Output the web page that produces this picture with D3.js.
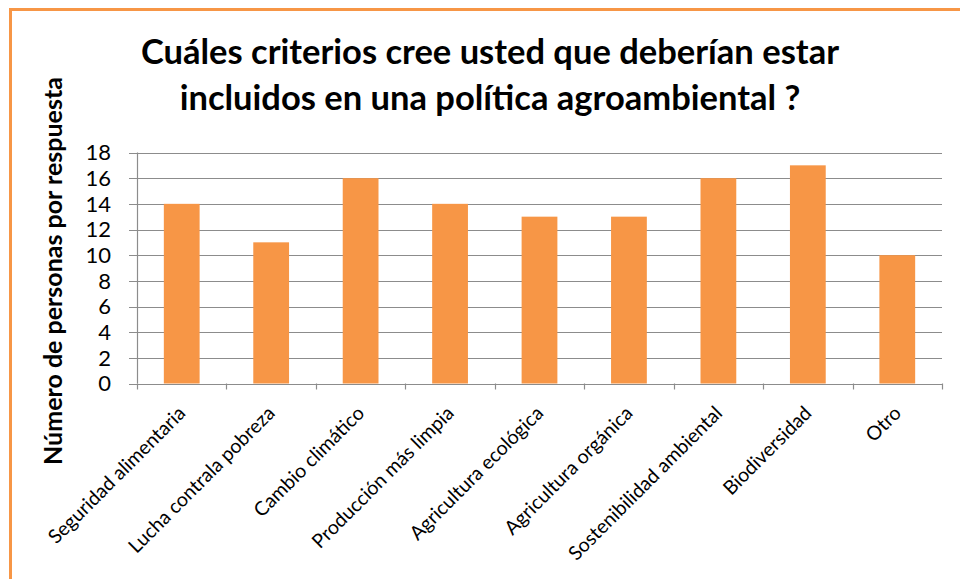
<!DOCTYPE html>
<html>
<head>
<meta charset="utf-8">
<script src="https://cdn.jsdelivr.net/npm/d3@7"></script>
<style>
  body { margin: 0; background: #fff; }
  text { font-family: Lato, "Noto Sans", sans-serif; fill: #000; }
</style>
</head>
<body>
<svg id="chart"></svg>
<script>
var width = 960;
var height = 579;

// chart data
var categories = ["Seguridad alimentaria", "Lucha contrala pobreza", "Cambio climático",
  "Producción más limpia", "Agricultura ecológica", "Agricultura orgánica",
  "Sostenibilidad ambiental", "Biodiversidad", "Otro"];
var values = [14, 11, 16, 14, 13, 13, 16, 17, 10];
var yTicks = [0, 2, 4, 6, 8, 10, 12, 14, 16, 18];
var titleLines = ["Cuáles criterios cree usted que deberían estar",
  "incluidos en una política agroambiental ?"];
var yTitle = "Número de personas por respuesta";

var orange = "#F79646";
var grid = "#8c8c8c";

var svg = d3.select("#chart")
  .attr("width", width)
  .attr("height", height);

// orange frame, runs off the right and bottom edge
svg.append("rect")
  .attr("x", 10.5).attr("y", 9.5)
  .attr("width", 1000).attr("height", 1000)
  .style("fill", "none")
  .style("stroke", orange)
  .style("stroke-width", 3);

var x = d3.scaleBand()
  .domain(categories)
  .range([137, 942])
  .paddingInner(0.6)
  .paddingOuter(0.3);

var band = d3.scaleBand().domain(categories).range([137, 942]);

var y = d3.scaleLinear()
  .domain([0, 18])
  .range([383.5, 152.5]);

// gridlines
svg.append("g").selectAll("line")
  .data(yTicks)
  .enter().append("line")
  .attr("x1", 129).attr("x2", 942)
  .attr("y1", function (d) { return Math.round(y(d)) + 0.5; })
  .attr("y2", function (d) { return Math.round(y(d)) + 0.5; })
  .style("stroke", grid)
  .style("stroke-width", 1.2);

// y axis line
svg.append("line")
  .attr("x1", 137.5).attr("x2", 137.5)
  .attr("y1", y(18)).attr("y2", y(0))
  .style("stroke", grid).style("stroke-width", 1.2);

// x tick marks on band edges
var edges = categories.map(function (c) { return band(c); }).concat([942]);
svg.append("g").selectAll("line")
  .data(edges)
  .enter().append("line")
  .attr("x1", function (d) { return Math.round(d) + 0.5; })
  .attr("x2", function (d) { return Math.round(d) + 0.5; })
  .attr("y1", y(0)).attr("y2", y(0) + 6)
  .style("stroke", grid).style("stroke-width", 1.2);

// bars
svg.append("g").selectAll("rect")
  .data(values)
  .enter().append("rect")
  .attr("x", function (d, i) { return x(categories[i]); })
  .attr("width", x.bandwidth())
  .attr("y", function (d) { return y(d); })
  .attr("height", function (d) { return y(0) - y(d); })
  .style("fill", orange);

// y tick labels
svg.append("g").selectAll("text")
  .data(yTicks)
  .enter().append("text")
  .attr("x", 111)
  .attr("y", function (d) { return y(d); })
  .attr("dy", "0.36em")
  .attr("text-anchor", "end")
  .style("font-size", "22px")
  .text(function (d) { return d; });

// category labels, rotated
svg.append("g").selectAll("text")
  .data(categories)
  .enter().append("text")
  .attr("text-anchor", "end")
  .attr("transform", function (d) {
    var cx = band(d) + band.bandwidth() / 2 + 5;
    return "translate(" + cx + "," + (y(0) + 31) + ") rotate(-45)";
  })
  .style("font-size", "19.5px")
  .text(function (d) { return d; });

// title
svg.append("g").selectAll("text")
  .data(titleLines)
  .enter().append("text")
  .attr("x", 490)
  .attr("y", function (d, i) { return 64 + i * 46; })
  .attr("text-anchor", "middle")
  .style("font-size", "34.5px")
  .style("font-weight", "bold")
  .text(function (d) { return d; });

// y axis title
svg.append("text")
  .attr("transform", "translate(62,271) rotate(-90)")
  .attr("text-anchor", "middle")
  .style("font-size", "25px")
  .style("font-weight", "bold")
  .text(yTitle);
</script>
</body>
</html>
